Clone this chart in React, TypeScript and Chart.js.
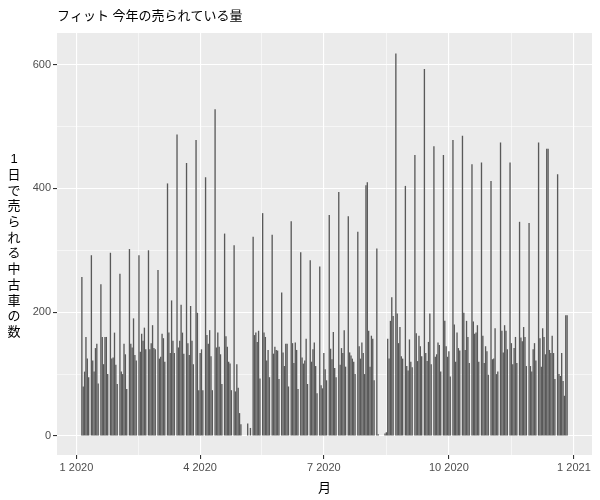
import { useEffect, useRef } from 'react'
import { Chart, registerables } from 'chart.js'

Chart.register(...registerables)

// daily sales per month, null = no sales recorded that day
const jan = [null, null, null, null, 257, 80, 104, 160, 125, 95, null, 292, 122, 104, 142, 149, 85, null, 245, 160, 116, 160, 160, 100, null, 296, 125, 127, 167, 115, 84]
const feb = [null, 262, 104, 100, 149, 132, 76, null, 302, 149, 143, 190, 131, 122, null, 292, 136, 165, 154, 175, 140, null, 300, 140, 150, 179, 142, 140, null]
const mar = [268, 125, 128, 165, 158, 120, null, 408, 167, 134, 219, 154, 134, null, 487, 143, 154, 212, 167, 133, null, 441, 150, 131, 210, 154, 116, null, 478, 199, 74]
const apr = [134, 140, 74, null, 418, 163, 149, 171, 129, 74, null, 528, 143, 167, 144, 132, 84, null, 327, 161, 144, 120, 117, 74, null, 308, 72, 116, 78, 37]
const may = [19, null, null, null, null, 20, null, 13, null, 322, 163, 167, 152, 170, 93, null, 360, 167, 160, 122, 139, 95, null, 325, 133, 144, 139, 138, 92, null, 232]
const jun = [135, 113, 149, 149, 80, null, 347, 150, 118, 151, 139, 76, null, 297, 127, 117, 122, 157, 84, null, 284, 120, 140, 151, 113, 69, null, 274, 82, 77]
const jul = [134, 108, 90, null, 357, 141, 124, 168, 110, 95, null, 394, 115, 142, 134, 171, 112, null, 355, 135, 130, 125, 120, 100, null, 330, 145, 125, 151, 134, 100]
const aug = [405, 410, 170, 112, 162, 157, 90, null, 303, 3, null, null, null, null, 4, 6, 157, 125, 186, 224, 194, null, 618, 198, 150, 176, 129, 125, null, 404, 113]
const sep = [106, 156, 120, 111, null, 454, 166, 121, 162, 145, 129, null, 593, 134, 121, 152, 198, 116, null, 468, 128, 132, 151, 147, 104, null, 454, 186, 145, 128]
const oct = [137, 96, null, 478, 180, 120, 167, 142, 138, null, 485, 199, 139, 186, 160, 118, null, 439, 185, 165, 167, 179, 120, null, 442, 162, 118, 145, 137, 99, null]
const nov = [412, 124, 125, 174, 100, 104, null, 474, 170, 135, 179, 170, 140, null, 442, 150, 116, 142, 160, 118, null, 346, 159, 153, 176, 160, 113, null, 344, 113]
const dec = [104, 140, 150, 122, null, 474, 158, 112, 174, 160, 132, 464, 464, 139, 134, 162, 134, 92, null, 423, 100, 97, 134, 89, 65, 195, 195, null, null, null, null]

const months = [jan, feb, mar, apr, may, jun, jul, aug, sep, oct, nov, dec]

// x = days since 1 Jan 2020
const xMajor: Record<number, string> = { 0: '1 2020', 91: '4 2020', 182: '7 2020', 274: '10 2020', 366: '1 2021' }
const xMinor = [45.5, 136.5, 228, 320]
const yMajor = [0, 200, 400, 600]
const yMinor = [100, 300, 500]

const titleText = 'フィット 今年の売られている量'
const xTitle = '月'
const yTitle = ['1', '日', 'で', '売', 'ら', 'れ', 'る', '中', '古', '車', 'の', '数']

const jpFont = "'Liberation Sans', 'Noto Sans CJK JP', sans-serif"

function buildPoints() {
  const pts: { x: number, y: number }[] = []
  let day = 0
  for (const m of months) {
    m.forEach((v, i) => {
      if (v !== null) pts.push({ x: day + i, y: v })
    })
    day += m.length
  }
  return pts
}

const panelBg = {
  id: 'panelBg',
  beforeDraw(chart: Chart) {
    const { ctx, chartArea: a } = chart
    ctx.save()
    ctx.fillStyle = '#EBEBEB'
    ctx.fillRect(a.left, a.top, a.right - a.left, a.bottom - a.top)
    ctx.restore()
  }
}

const labels = {
  id: 'labels',
  afterDraw(chart: Chart) {
    const { ctx, chartArea: a } = chart
    ctx.save()
    ctx.fillStyle = '#000000'
    ctx.font = `13px ${jpFont}`
    ctx.textBaseline = 'middle'
    ctx.textAlign = 'left'
    ctx.fillText(titleText, a.left, 16)
    ctx.textAlign = 'center'
    ctx.fillText(xTitle, (a.left + a.right) / 2, 488)
    const step = 15.7
    const mid = (a.top + a.bottom) / 2
    const start = mid - (step * (yTitle.length - 1)) / 2 + 2
    yTitle.forEach((c, i) => ctx.fillText(c, 14, start + i * step))
    ctx.restore()
  }
}

export default function App() {
  const chartRef = useRef<HTMLCanvasElement>(null)

  useEffect(() => {
    if (!chartRef.current) return
    const ctx = chartRef.current.getContext('2d')
    if (!ctx) return

    const isMajorX = (v: number) => xMajor[v] !== undefined
    const isMajorY = (v: number) => yMajor.includes(v)

    const chart = new Chart(ctx, {
      type: 'bar',
      data: {
        datasets: [{
          data: buildPoints(),
          backgroundColor: '#595959',
          barPercentage: 0.98,
          categoryPercentage: 1
        }]
      },
      options: {
        responsive: false,
        animation: false,
        layout: { padding: { top: 33, right: 8, left: 0, bottom: 0 } },
        plugins: {
          legend: { display: false },
          tooltip: { enabled: false },
          title: { display: false }
        },
        scales: {
          x: {
            type: 'linear',
            min: -14.3,
            max: 379.3,
            offset: false,
            border: { display: false },
            afterBuildTicks: (s: any) => {
              s.ticks = [...Object.keys(xMajor).map(Number), ...xMinor]
                .sort((p, q) => p - q)
                .map(v => ({ value: v }))
            },
            afterFit: (s: any) => { s.height = 45 },
            grid: {
              offset: false,
              color: '#FFFFFF',
              lineWidth: (c: any) => (isMajorX(c.tick?.value) ? 1.1 : 0.55),
              tickColor: (c: any) => (isMajorX(c.tick?.value) ? '#333333' : 'rgba(0,0,0,0)'),
              tickLength: 4
            },
            ticks: {
              autoSkip: false,
              maxRotation: 0,
              padding: 2,
              color: '#4D4D4D',
              font: { size: 11, family: jpFont },
              callback: (v: any) => xMajor[Number(v)] ?? ''
            }
          },
          y: {
            min: -30.7,
            max: 651,
            border: { display: false },
            afterBuildTicks: (s: any) => {
              s.ticks = [...yMajor, ...yMinor].sort((p, q) => p - q).map(v => ({ value: v }))
            },
            afterFit: (s: any) => { s.width = 57 },
            grid: {
              color: '#FFFFFF',
              lineWidth: (c: any) => (isMajorY(c.tick?.value) ? 1.1 : 0.55),
              tickColor: (c: any) => (isMajorY(c.tick?.value) ? '#333333' : 'rgba(0,0,0,0)'),
              tickLength: 4
            },
            ticks: {
              padding: 2,
              color: '#4D4D4D',
              font: { size: 11, family: jpFont },
              callback: (v: any) => (isMajorY(Number(v)) ? String(v) : '')
            }
          }
        }
      },
      plugins: [panelBg, labels]
    } as any)

    return () => {
      chart.destroy()
    }
  }, [])

  return (
    <div style={{ position: 'fixed', left: 0, top: 0, width: 600, height: 500, background: '#FFFFFF' }}>
      <canvas ref={chartRef} width={600} height={500} />
    </div>
  )
}
